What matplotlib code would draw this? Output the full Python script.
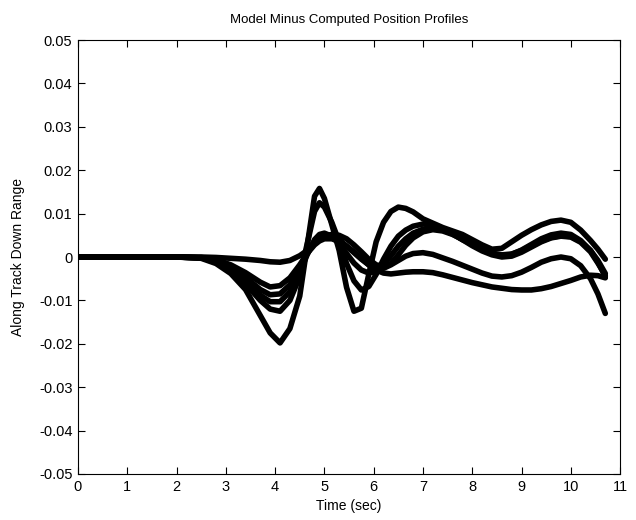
import numpy as np
import matplotlib
matplotlib.use("Agg")
import matplotlib.pyplot as plt

# time samples (sec)
t = [0, 0.5, 1, 1.5, 2, 2.5, 2.8, 3.1, 3.4, 3.7, 3.9, 4.1, 4.3, 4.5, 4.65,
     4.8, 4.9, 5.0, 5.15, 5.3, 5.45, 5.6, 5.75, 5.9, 6.05, 6.2, 6.35, 6.5,
     6.65, 6.8, 7.0, 7.2, 7.4, 7.6, 7.8, 8.0, 8.2, 8.4, 8.6, 8.8, 9.0, 9.2,
     9.4, 9.6, 9.8, 10.0, 10.2, 10.4, 10.55, 10.7]

# profiles
p_deep = [0, 0, 0, 0, 0, -0.0003, -0.0015, -0.0038, -0.0075, -0.0135, -0.0175,
          -0.0198, -0.0165, -0.0090, 0.0025, 0.0140, 0.0158, 0.0135, 0.0075,
          0.0015, -0.0070, -0.0125, -0.0118, -0.0040, 0.0035, 0.0080, 0.0105,
          0.0115, 0.0112, 0.0104, 0.0088, 0.0078, 0.0068, 0.0060, 0.0052,
          0.0040, 0.0028, 0.0018, 0.0020, 0.0035, 0.0050, 0.0063, 0.0074,
          0.0082, 0.0085, 0.0080, 0.0062, 0.0038, 0.0018, -0.0005]
p_d4 = [0, 0, 0, 0, 0, -0.0002, -0.0010, -0.0030, -0.0062, -0.0100, -0.0120,
        -0.0125, -0.0100, -0.0045, 0.0030, 0.0105, 0.0125, 0.0115, 0.0080,
        0.0035, -0.0015, -0.0055, -0.0076, -0.0068, -0.0040, -0.0005, 0.0025,
        0.0048, 0.0062, 0.0071, 0.0076, 0.0074, 0.0066, 0.0055, 0.0040,
        0.0030, 0.0017, 0.0007, 0.0002, 0.0006, 0.0016, 0.0029, 0.0042,
        0.0051, 0.0055, 0.0052, 0.0038, 0.0015, -0.0012, -0.0045]
p_d3 = [0, 0, 0, 0, 0, -0.0002, -0.0009, -0.0027, -0.0055, -0.0088, -0.0103,
        -0.0103, -0.0080, -0.0035, 0.0005, 0.0040, 0.0052, 0.0055, 0.0048,
        0.0030, 0.0008, -0.0014, -0.0030, -0.0037, -0.0033, -0.0018, 0.0003,
        0.0025, 0.0042, 0.0055, 0.0064, 0.0067, 0.0063, 0.0053, 0.0040,
        0.0026, 0.0014, 0.0005, 0.0000, 0.0002, 0.0011, 0.0023, 0.0035,
        0.0044, 0.0048, 0.0046, 0.0034, 0.0012, -0.0014, -0.0042]
p_d2 = [0, 0, 0, 0, 0, -0.0002, -0.0008, -0.0023, -0.0047, -0.0075, -0.0087,
        -0.0085, -0.0064, -0.0025, 0.0008, 0.0035, 0.0046, 0.0050, 0.0050,
        0.0040, 0.0025, 0.0010, -0.0005, -0.0018, -0.0026, -0.0026, -0.0018,
        -0.0008, 0.0002, 0.0008, 0.0010, 0.0006, -0.0002, -0.0010, -0.0019,
        -0.0028, -0.0037, -0.0044, -0.0046, -0.0043, -0.0035, -0.0024,
        -0.0012, -0.0004, 0.0000, -0.0004, -0.0020, -0.0050, -0.0085, -0.0130]
p_d1 = [0, 0, 0, 0, 0, -0.0001, -0.0006, -0.0018, -0.0036, -0.0058, -0.0069,
        -0.0066, -0.0048, -0.0018, 0.0008, 0.0028, 0.0037, 0.0042, 0.0042,
        0.0036, 0.0025, 0.0012, -0.0003, -0.0018, -0.0030, -0.0037, -0.0039,
        -0.0037, -0.0035, -0.0034, -0.0034, -0.0036, -0.0041, -0.0047,
        -0.0053, -0.0059, -0.0064, -0.0069, -0.0072, -0.0075, -0.0076,
        -0.0076, -0.0073, -0.0068, -0.0061, -0.0054, -0.0046, -0.0042,
        -0.0043, -0.0048]
p_flat = [0, 0, 0, 0, 0, 0, -0.0001, -0.0003, -0.0005, -0.0008, -0.0011,
          -0.0012, -0.0008, 0.0003, 0.0015, 0.0030, 0.0040, 0.0048, 0.0052,
          0.0050, 0.0042, 0.0028, 0.0012, -0.0005, -0.0018, -0.0022, -0.0015,
          0.0005, 0.0027, 0.0044, 0.0058, 0.0063, 0.0060, 0.0052, 0.0041,
          0.0029, 0.0018, 0.0009, 0.0005, 0.0007, 0.0015, 0.0026, 0.0037,
          0.0045, 0.0049, 0.0047, 0.0036, 0.0015, -0.0008, -0.0038]

xticks = list(range(0, 12))
yticks = [-0.05, -0.04, -0.03, -0.02, -0.01, 0, 0.01, 0.02, 0.03, 0.04, 0.05]
ytick_labels = ["-0.05", "-0.04", "-0.03", "-0.02", "-0.01", "0",
                "0.01", "0.02", "0.03", "0.04", "0.05"]

plt.rcParams["font.family"] = ["Liberation Sans", "DejaVu Sans"]
fig = plt.figure(figsize=(6.36, 5.2), dpi=100)
ax = fig.add_axes([0.1226, 0.0885, 0.8524, 0.8345])

for p in (p_deep, p_d4, p_d3, p_d2, p_d1, p_flat):
    ax.plot(t, p, color="black", lw=4, solid_joinstyle="round",
            solid_capstyle="round")

ax.set_xlim(0, 11)
ax.set_ylim(-0.05, 0.05)
ax.set_xticks(xticks)
ax.set_yticks(yticks)
ax.set_yticklabels(ytick_labels)
ax.tick_params(direction="in", top=True, right=True, length=5, width=0.8,
               labelsize=10.5, pad=4)
for s in ax.spines.values():
    s.set_linewidth(0.8)

ax.set_title("Model Minus Computed Position Profiles", fontsize=9.5, pad=12)
ax.set_xlabel("Time (sec)", fontsize=10, labelpad=4)
ax.set_ylabel("Along Track Down Range", fontsize=10, labelpad=10)

fig.savefig("out.png", dpi=100, facecolor="white")
